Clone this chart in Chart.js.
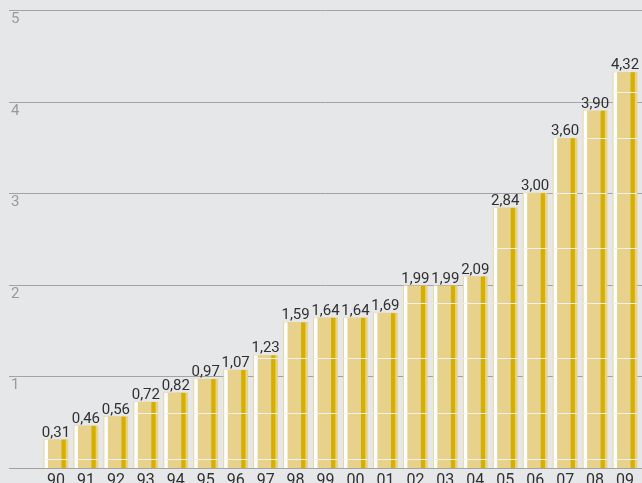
<!DOCTYPE html>
<html lang="pt-BR">
<head>
<meta charset="utf-8">
<title>Gráfico de barras</title>
<script src="https://cdn.jsdelivr.net/npm/chart.js@4.4.0/dist/chart.umd.min.js"></script>
<style>
  html, body { margin: 0; padding: 0; background: #e6e7e9; overflow: hidden; }
  #wrap { width: 642px; height: 500px; }
</style>
</head>
<body>
<div id="wrap"><canvas id="grafico" width="642" height="500"></canvas></div>
<script>
// ========= Dados =========
const anos = ["90", "91", "92", "93", "94", "95", "96", "97", "98", "99",
  "00", "01", "02", "03", "04", "05", "06", "07", "08", "09"];
const valores = [0.31, 0.46, 0.56, 0.72, 0.82, 0.97, 1.07, 1.23, 1.59, 1.64,
  1.64, 1.69, 1.99, 1.99, 2.09, 2.84, 3.0, 3.6, 3.9, 4.32];
const marcasY = [0, 1, 2, 3, 4, 5];

// ========= Cores e fontes =========
const COR_BARRA = "#e8d18a";
const COR_ESCURA = "#d5b000";
const COR_GRADE = "#a3a3a3";
const COR_EIXO = "#9a9a9a";
const COR_TEXTO = "#303030";
const FONTE = "Roboto";

// formata com vírgula e duas casas
function format(n) {
  return n.toFixed(2).replace(".", ",");
}

// ========= Plugins =========
// linhas de grade e rótulos do eixo y (começam antes da área do gráfico)
const gradeFundo = {
  id: "gradeFundo",
  beforeDatasetsDraw(chart) {
    const { ctx, width } = chart;
    const y = chart.scales.y;
    ctx.save();
    ctx.strokeStyle = COR_GRADE;
    ctx.lineWidth = 1;
    ctx.fillStyle = COR_EIXO;
    ctx.font = `15px ${FONTE}`;
    ctx.textBaseline = "top";
    ctx.textAlign = "left";
    for (const v of marcasY) {
      const py = Math.round(y.getPixelForValue(v)) + 0.5;
      ctx.beginPath();
      ctx.moveTo(9, py);
      ctx.lineTo(width, py);
      ctx.stroke();
      if (v > 0) ctx.fillText(String(v), 11, py + 1.5);
    }
    ctx.restore();
  },
};

// listras das barras, faixas claras e valores
const detalheBarras = {
  id: "detalheBarras",
  afterDatasetsDraw(chart) {
    const { ctx } = chart;
    const y = chart.scales.y;
    const meta = chart.getDatasetMeta(0);
    const faixas = [0.1, 0.6, 1.2, 1.8, 2.4, 3.0, 3.6, 4.1];
    ctx.save();
    meta.data.forEach((bar, i) => {
      const esq = bar.x - bar.width / 2;
      const topo = bar.y;
      const alt = bar.base - bar.y;
      ctx.fillStyle = "#ffffff";
      ctx.fillRect(esq + 0.5, topo, 3.5, alt);
      ctx.fillStyle = COR_ESCURA;
      ctx.fillRect(esq + 17.5, topo, 4.3, alt);
      // faixas horizontais claras
      ctx.fillStyle = "#f3f1ea";
      for (const f of faixas) {
        if (f >= valores[i]) continue;
        const py = Math.round(y.getPixelForValue(f));
        ctx.fillRect(esq, py, bar.width, 1);
      }
      // valor acima da barra
      ctx.fillStyle = COR_TEXTO;
      ctx.font = `15px ${FONTE}`;
      ctx.textAlign = "center";
      ctx.textBaseline = "alphabetic";
      ctx.fillText(format(valores[i]), bar.x, topo - 3);
    });
    ctx.restore();
  },
};

// ========= Gráfico =========
new Chart(document.getElementById("grafico"), {
  type: "bar",
  data: {
    labels: anos,
    datasets: [{
      data: valores,
      backgroundColor: COR_BARRA,
      borderWidth: 0,
      barThickness: 24,
    }],
  },
  options: {
    responsive: false,
    animation: false,
    layout: { padding: { left: 41, right: 2, top: 10, bottom: 0 } },
    plugins: {
      legend: { display: false },
      tooltip: { enabled: false },
    },
    scales: {
      x: {
        grid: { display: false, drawTicks: false },
        border: { display: false },
        ticks: {
          color: COR_TEXTO,
          font: { family: FONTE, size: 16 },
          padding: 3,
          maxRotation: 0,
          autoSkip: false,
        },
        afterFit(scale) { scale.height = 32; },
      },
      y: {
        display: false,
        min: 0,
        max: 5,
      },
    },
  },
  plugins: [gradeFundo, detalheBarras],
});
</script>
</body>
</html>
